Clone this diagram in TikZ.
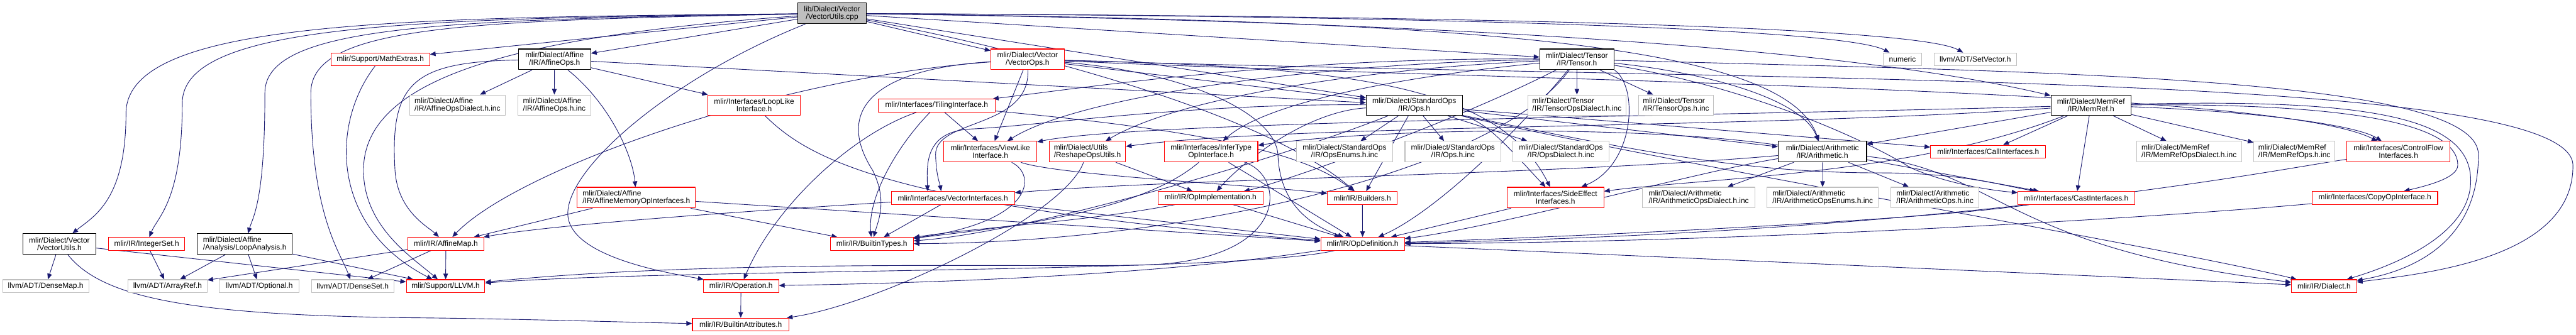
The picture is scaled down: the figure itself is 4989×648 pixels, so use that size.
\documentclass[tikz,border=0pt]{standalone}
\usepackage{fontspec}
\setmainfont{Liberation Sans}
\usetikzlibrary{arrows.meta}
\newcommand{\Border}{1.3pt}
\newcommand{\Wire}{1.1pt}
\newcommand{\NodeFont}{\fontsize{14.6}{14.4}\selectfont}
\definecolor{wire}{HTML}{191970}
\definecolor{cutred}{HTML}{FF0000}
\definecolor{outgrey}{HTML}{BFBFBF}
\definecolor{srcgrey}{HTML}{BFBFBF}
\pgfdeclarelayer{wires}
\pgfsetlayers{wires,main}

\begin{document}
\begin{tikzpicture}[x=1pt, y=-1pt, line join=round,
  header/.style={rectangle, draw=black, fill=white, line width=\Border, inner sep=0pt,
    minimum height=25, font=\NodeFont, align=center},
  twoline/.style={minimum height=40},
  leftlines/.style={align=left},
  cutoff/.style={header, draw=cutred},
  outer/.style={header, draw=outgrey},
  source/.style={header, fill=srcgrey},
  dep/.style={draw=wire, line width=\Wire, -{Triangle[length=11pt,width=9pt]}}]

  \useasboundingbox (0,0) rectangle (4989,648);

  % ---- first row: the file itself and what it pulls in first ---------------
  \node[source, twoline, minimum width=133] (root) at (1611.5,26) {lib/Dialect/Vector\\/VectorUtils.cpp};
  \node[cutoff, minimum width=191] (mathextras) at (736.5,115) {mlir/Support/MathExtras.h};
  \node[header, twoline, minimum width=140] (affops) at (1074,115) {mlir/Dialect/Affine\\/IR/AffineOps.h};
  \node[cutoff, twoline, minimum width=142] (vecops) at (1990,115) {mlir/Dialect/Vector\\/VectorOps.h};
  \node[header, twoline, minimum width=144] (tensor) at (3054,115) {mlir/Dialect/Tensor\\/IR/Tensor.h};
  \node[outer, minimum width=75] (numeric) at (3684.5,115) {numeric};
  \node[outer, minimum width=159] (setvector) at (3825.5,115) {llvm/ADT/SetVector.h};

  % ---- second row ---------------------------------------------------------
  \node[outer, twoline, leftlines, minimum width=186] (affdialinc) at (886,204) {mlir/Dialect/Affine\\/IR/AffineOpsDialect.h.inc};
  \node[outer, twoline, leftlines, minimum width=141] (affopsinc) at (1073.5,204) {mlir/Dialect/Affine\\/IR/AffineOps.h.inc};
  \node[cutoff, twoline, minimum width=179] (looplike) at (1460.5,204) {mlir/Interfaces/LoopLike\\Interface.h};
  \node[cutoff, minimum width=226] (tiling) at (1814,204.5) {mlir/Interfaces/TilingInterface.h};
  \node[header, twoline, minimum width=186] (stdops) at (2739,204) {mlir/Dialect/StandardOps\\/IR/Ops.h};
  \node[outer, twoline, leftlines, minimum width=190] (tensordialinc) at (3054,204) {mlir/Dialect/Tensor\\/IR/TensorOpsDialect.h.inc};
  \node[outer, twoline, leftlines, minimum width=146] (tensoropsinc) at (3246,204) {mlir/Dialect/Tensor\\/IR/TensorOps.h.inc};
  \node[header, twoline, minimum width=155] (memref) at (4049.5,204) {mlir/Dialect/MemRef\\/IR/MemRef.h};

  % ---- third row ----------------------------------------------------------
  \node[cutoff, twoline, minimum width=180] (viewlike) at (1918,294) {mlir/Interfaces/ViewLike\\Interface.h};
  \node[cutoff, twoline, leftlines, minimum width=148] (reshape) at (2106,294) {mlir/Dialect/Utils\\/ReshapeOpsUtils.h};
  \node[cutoff, twoline, minimum width=181] (infertype) at (2345.5,294) {mlir/Interfaces/InferType\\OpInterface.h};
  \node[outer, twoline, minimum width=186] (opsenums) at (2604,294) {mlir/Dialect/StandardOps\\/IR/OpsEnums.h.inc};
  \node[outer, twoline, minimum width=186] (opsinc) at (2814,294) {mlir/Dialect/StandardOps\\/IR/Ops.h.inc};
  \node[outer, twoline, minimum width=186] (opsdialinc) at (3023,294) {mlir/Dialect/StandardOps\\/IR/OpsDialect.h.inc};
  \node[header, twoline, minimum width=171] (arith) at (3529.5,294) {mlir/Dialect/Arithmetic\\/IR/Arithmetic.h};
  \node[cutoff, minimum width=223] (callif) at (3850.5,294) {mlir/Interfaces/CallInterfaces.h};
  \node[outer, twoline, leftlines, minimum width=203] (memrefdialinc) at (4239.5,294) {mlir/Dialect/MemRef\\/IR/MemRefOpsDialect.h.inc};
  \node[outer, twoline, leftlines, minimum width=157] (memrefopsinc) at (4443.5,294) {mlir/Dialect/MemRef\\/IR/MemRefOps.h.inc};
  \node[cutoff, twoline, minimum width=200] (ctrlflow) at (4645,294) {mlir/Interfaces/ControlFlow\\Interfaces.h};

  % ---- fourth row ---------------------------------------------------------
  \node[cutoff, twoline, leftlines, minimum width=229] (affmemop) at (1232.5,383) {mlir/Dialect/Affine\\/IR/AffineMemoryOpInterfaces.h};
  \node[cutoff, minimum width=239] (vecif) at (1845.5,383.5) {mlir/Interfaces/VectorInterfaces.h};
  \node[cutoff, minimum width=203] (opimpl) at (2344.5,383.5) {mlir/IR/OpImplementation.h};
  \node[cutoff, minimum width=135] (builders) at (2638.5,383.5) {mlir/IR/Builders.h};
  \node[cutoff, twoline, minimum width=187] (sideeffect) at (3012.5,383) {mlir/Interfaces/SideEffect\\Interfaces.h};
  \node[outer, twoline, leftlines, minimum width=218] (arithdialinc) at (3290,383) {mlir/Dialect/Arithmetic\\/IR/ArithmeticOpsDialect.h.inc};
  \node[outer, twoline, leftlines, minimum width=216] (arithenuminc) at (3530,383) {mlir/Dialect/Arithmetic\\/IR/ArithmeticOpsEnums.h.inc};
  \node[outer, twoline, leftlines, minimum width=171] (arithopsinc) at (3747.5,383) {mlir/Dialect/Arithmetic\\/IR/ArithmeticOps.h.inc};
  \node[cutoff, minimum width=226] (castif) at (4021,383.5) {mlir/Interfaces/CastInterfaces.h};
  \node[cutoff, minimum width=243] (copyop) at (4599.5,383.5) {mlir/Interfaces/CopyOpInterface.h};

  % ---- fifth row ----------------------------------------------------------
  \node[header, twoline, minimum width=142] (vecutils) at (115,473) {mlir/Dialect/Vector\\/VectorUtils.h};
  \node[cutoff, minimum width=148] (intset) at (284,472.5) {mlir/IR/IntegerSet.h};
  \node[header, twoline, leftlines, minimum width=184] (loopana) at (474,473) {mlir/Dialect/Affine\\/Analysis/LoopAnalysis.h};
  \node[cutoff, minimum width=147] (affmap) at (863.5,472.5) {mlir/IR/AffineMap.h};
  \node[cutoff, minimum width=161] (builtintypes) at (1688.5,472.5) {mlir/IR/BuiltinTypes.h};
  \node[cutoff, minimum width=162] (opdef) at (2639,472.5) {mlir/IR/OpDefinition.h};

  % ---- bottom rows --------------------------------------------------------
  \node[outer, minimum width=167] (densemap) at (88.5,554.5) {llvm/ADT/DenseMap.h};
  \node[outer, minimum width=153] (arrayref) at (324.5,554.5) {llvm/ADT/ArrayRef.h};
  \node[outer, minimum width=154] (optional) at (502,554.5) {llvm/ADT/Optional.h};
  \node[outer, minimum width=160] (denseset) at (683,554.5) {llvm/ADT/DenseSet.h};
  \node[cutoff, minimum width=152] (llvm) at (863,554.5) {mlir/Support/LLVM.h};
  \node[cutoff, minimum width=146] (operation) at (1435,554.5) {mlir/IR/Operation.h};
  \node[cutoff, minimum width=126] (dialect) at (4501,554.5) {mlir/IR/Dialect.h};
  \node[cutoff, minimum width=187] (builtinattr) at (1434.5,629) {mlir/IR/BuiltinAttributes.h};

  \begin{pgfonlayer}{wires}
  \fill[white] (0,0) rectangle (4989,648);

  % ---- from the source file -----------------------------------------------
  \draw[dep] (root) .. controls (760,34) and (244,40) .. (244,220) .. controls (244,390) and (180,420) .. (vecutils);
  \draw[dep] (root) .. controls (800,36) and (353,45) .. (353,200) .. controls (353,390) and (305,420) .. (intset);
  \draw[dep] (root) .. controls (850,38) and (513,50) .. (513,180) .. controls (513,390) and (490,420) .. (loopana);
  \draw[dep] (root) .. controls (900,40) and (602,50) .. (602,180) .. controls (602,420) and (660,490) .. (denseset);
  \draw[dep] (root) .. controls (1000,70) and (704,150) .. (704,330) .. controls (704,440) and (800,500) .. (llvm);
  \draw[dep] (root) .. controls (1300,150) and (1090,330) .. (1100,420) .. controls (1110,500) and (1300,530) .. (operation);
  \foreach \tgt in {mathextras,affops,vecops,tensor,stdops}
    \draw[dep] (root) -- (\tgt);
  \draw[dep] (root) .. controls (2000,100) and (2450,220) .. (builders);
  \draw[dep] (root) .. controls (2600,30) and (3560,50) .. (numeric);
  \draw[dep] (root) .. controls (2600,30) and (3700,45) .. (setvector);
  \draw[dep] (root) .. controls (2900,40) and (3460,90) .. (arith);
  \draw[dep] (root) .. controls (3100,45) and (3700,120) .. (memref);

  % ---- left hand headers --------------------------------------------------
  \draw[dep] (vecutils) -- (densemap);
  \draw[dep] (vecutils) -- (llvm);
  \draw[dep] (vecutils) .. controls (200,580) and (380,612) .. (820,616) .. controls (1000,618) and (1200,624) .. (builtinattr);
  \draw[dep] (intset) -- (arrayref);
  \foreach \tgt in {arrayref,optional,llvm}
    \draw[dep] (loopana) -- (\tgt);
  \draw[dep] (mathextras) .. controls (640,240) and (640,440) .. (llvm);
  \foreach \tgt in {arrayref,denseset,llvm}
    \draw[dep] (affmap) -- (\tgt);

  % ---- affine ops ---------------------------------------------------------
  \foreach \tgt in {affdialinc,affopsinc,looplike,stdops}
    \draw[dep] (affops) -- (\tgt);
  \draw[dep] (affops) .. controls (1180,200) and (1225,300) .. (affmemop);
  \draw[dep] (affops) .. controls (800,120) and (755,160) .. (765,330) .. controls (770,410) and (830,440) .. (affmap);
  \foreach \tgt in {affmap,builtintypes,opdef}
    \draw[dep] (affmemop) -- (\tgt);
  \draw[dep] (looplike) .. controls (1560,300) and (1700,400) .. (opdef);

  % ---- vector ops ---------------------------------------------------------
  \draw[dep] (vecops) .. controls (1500,150) and (1000,330) .. (affmap);
  \draw[dep] (vecops) .. controls (1680,135) and (1620,220) .. (1690,330) .. controls (1720,390) and (1700,430) .. (builtintypes);
  \foreach \tgt in {viewlike,stdops}
    \draw[dep] (vecops) -- (\tgt);
  \draw[dep] (vecops) .. controls (1995,250) and (1810,230) .. (1812,300) .. controls (1813,340) and (1820,355) .. (vecif.150);
  \draw[dep] (vecops) .. controls (2300,140) and (2470,220) .. (2475,300) .. controls (2478,380) and (2520,430) .. (opdef);
  \draw[dep] (vecops) .. controls (2600,130) and (2900,160) .. (sideeffect);
  \draw[dep] (vecops) .. controls (3000,160) and (4400,170) .. (ctrlflow);
  \draw[dep] (vecops) .. controls (3500,160) and (4980,140) .. (4983,320) .. controls (4985,500) and (4700,530) .. (dialect);

  % ---- tensor -------------------------------------------------------------
  \foreach \tgt in {tensordialinc,tensoropsinc}
    \draw[dep] (tensor) -- (\tgt);
  \draw[dep] (tensor) .. controls (3300,140) and (3490,190) .. (arith);
  \draw[dep] (tensor) .. controls (2700,130) and (2300,180) .. (reshape);
  \draw[dep] (tensor) .. controls (2700,150) and (2450,200) .. (infertype);
  \draw[dep] (tensor) .. controls (2600,120) and (2100,180) .. (viewlike);
  \draw[dep] (tensor) .. controls (2500,110) and (2100,170) .. (tiling);
  \draw[dep] (tensor.south east) .. controls (3175,170) and (3165,320) .. (sideeffect);
  \draw[dep] (tensor) .. controls (2800,245) and (2460,360) .. (opimpl);
  \draw[dep] (tensor) .. controls (2900,330) and (2300,470) .. (builtintypes);
  \draw[dep] (tensor) .. controls (2900,300) and (2760,420) .. (opdef);
  \draw[dep] (tensor) .. controls (3400,170) and (3630,280) .. (3700,325) .. controls (3780,360) and (3870,370) .. (castif);
  \draw[dep] (tensor) .. controls (4000,140) and (4800,150) .. (4800,300) .. controls (4800,450) and (4700,520) .. (dialect);

  % ---- standard ops -------------------------------------------------------
  \foreach \tgt in {opsenums,opsinc,opsdialinc,arith,builders,callif}
    \draw[dep] (stdops) -- (\tgt);
  \draw[dep] (stdops) .. controls (2540,215) and (2420,300) .. (opimpl);
  \draw[dep] (stdops) .. controls (2880,235) and (2925,290) .. (sideeffect);
  \draw[dep] (stdops) .. controls (2300,200) and (2000,245) .. (1880,250) .. controls (1790,255) and (1795,320) .. (vecif.165);
  \draw[dep] (stdops) .. controls (2500,300) and (2000,450) .. (builtintypes);
  \draw[dep] (stdops) .. controls (3200,300) and (3400,335) .. (3640,335) .. controls (3800,335) and (3880,360) .. (castif);
  \draw[dep] (stdops) .. controls (3300,330) and (4200,480) .. (dialect);

  % ---- arithmetic ---------------------------------------------------------
  \foreach \tgt in {arithdialinc,arithenuminc,arithopsinc,castif}
    \draw[dep] (arith) -- (\tgt);
  \draw[dep] (arith) .. controls (3870,330) and (3880,480) .. (dialect);
  \draw[dep] (arith) .. controls (3300,330) and (2900,440) .. (opdef);
  \draw[dep] (arith) .. controls (3200,245) and (2700,245) .. (infertype);
  \draw[dep] (arith) .. controls (3000,340) and (2300,345) .. (vecif);

  % ---- memref -------------------------------------------------------------
  \foreach \tgt in {memrefdialinc,memrefopsinc,arith,callif,castif}
    \draw[dep] (memref) -- (\tgt);
  \draw[dep] (memref) .. controls (4350,215) and (4560,240) .. (ctrlflow);
  \draw[dep] (memref) .. controls (4500,200) and (4760,230) .. (4760,320) .. controls (4760,345) and (4700,360) .. (copyop);
  \draw[dep] (memref) .. controls (4600,190) and (4785,230) .. (4785,350) .. controls (4785,450) and (4650,510) .. (dialect);
  \draw[dep] (memref) .. controls (3400,250) and (2500,240) .. (reshape);
  \draw[dep] (memref) .. controls (3300,225) and (2200,235) .. (viewlike);
  \draw[dep] (memref) .. controls (3700,340) and (3300,345) .. (sideeffect);

  % ---- the interfaces -----------------------------------------------------
  \draw[dep] (tiling) -- (viewlike);
  \draw[dep] (tiling) .. controls (1740,280) and (1680,380) .. (builtintypes);
  \draw[dep] (tiling) .. controls (1650,260) and (1500,400) .. (operation);
  \draw[dep] (tiling) .. controls (2300,250) and (2520,290) .. (builders);
  \draw[dep] (viewlike) .. controls (2010,340) and (2000,430) .. (builtintypes);
  \draw[dep] (viewlike) .. controls (2050,340) and (2450,360) .. (builders);
  \draw[dep] (reshape) .. controls (2060,420) and (1700,590) .. (builtinattr);
  \draw[dep] (reshape) -- (opimpl);
  \draw[dep] (infertype) .. controls (2200,420) and (1900,445) .. (builtintypes);
  \draw[dep] (infertype) -- (opdef);
  \draw[dep] (infertype) .. controls (2490,340) and (2500,500) .. (2230,513) .. controls (2050,520) and (1400,500) .. (llvm);
  \draw[dep] (vecif) .. controls (1600,400) and (1100,430) .. (affmap);
  \foreach \tgt in {builtintypes,opdef}
    \draw[dep] (vecif) -- (\tgt);
  \draw[dep] (opimpl) .. controls (2100,430) and (1900,440) .. (builtintypes);
  \foreach \src in {opimpl,builders,sideeffect}
    \draw[dep] (\src) -- (opdef);
  \draw[dep] (castif) .. controls (3700,430) and (3000,460) .. (opdef);
  \draw[dep] (copyop) .. controls (4200,420) and (3400,470) .. (opdef);
  \draw[dep] (ctrlflow) .. controls (4400,330) and (3800,450) .. (opdef);

  % ---- the lowest rows ----------------------------------------------------
  \draw[dep] (opdef) .. controls (2200,540) and (1700,550) .. (operation);
  \draw[dep] (opdef) .. controls (2400,530) and (1300,520) .. (llvm);
  \draw[dep] (opdef) -- (dialect);
  \draw[dep] (operation) -- (builtinattr);
  \end{pgfonlayer}

\end{tikzpicture}
\end{document}
